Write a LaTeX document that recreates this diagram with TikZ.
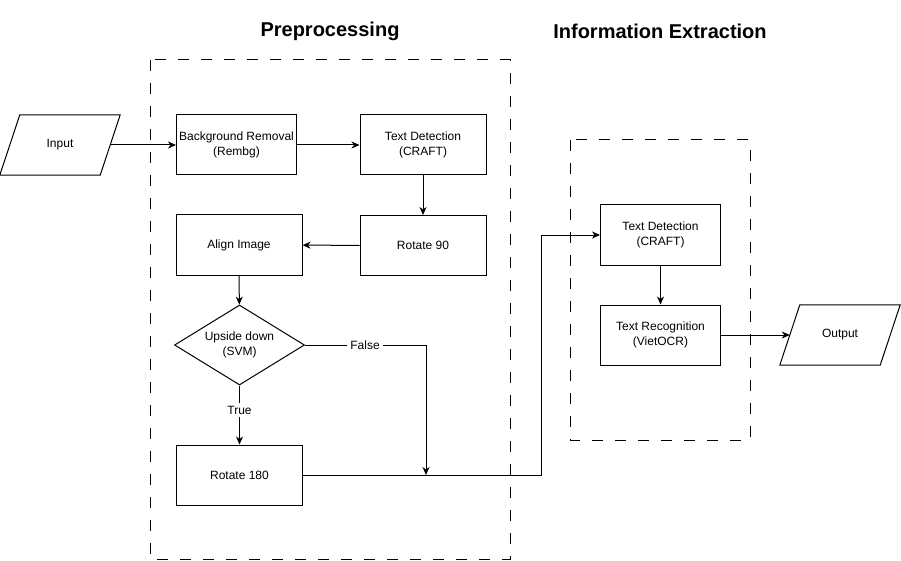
\documentclass[tikz,border=0pt]{standalone}
\usepackage{fontspec}
\setmainfont{Liberation Sans}
\usetikzlibrary{shapes.geometric,arrows.meta}
\begin{document}
\begin{tikzpicture}[x=1pt,y=-1pt,
  every node/.style={font=\fontsize{12}{14.4}\selectfont, align=center, inner sep=0pt},
  box/.style={draw, line width=1pt, minimum width=#1, minimum height=60pt},
  box/.default=126pt,
  io/.style={minimum width=100pt, minimum height=60pt},
  iobox/.style={draw, line width=1pt, line join=miter},
  dec/.style={draw, line width=1pt, diamond, aspect=1.625, minimum width=130pt, minimum height=80pt, inner sep=0pt},
  arr/.style={draw, line width=1pt, -{Stealth[length=8pt,width=7pt,inset=2.5pt]}},
  grp/.style={draw, line width=1pt, dash pattern=on 11pt off 12pt},
  lbl/.style={fill=white, inner sep=3pt},
  ttl/.style={font=\fontsize{20}{24}\selectfont\bfseries}
]
\useasboundingbox (0,0) rectangle (901,561);
% groups
\draw[grp] (150,60) rectangle (510,559);
\draw[grp] (570,140) rectangle (750,440);
\node[ttl] (t1) at (330,31) {Preprocessing};
\node[ttl] (t2) at (660,31) {Information Extraction};
% nodes
\node[io] (in) at (60,145) {Input};
\draw[iobox] ([xshift=10pt]in.north west) -- ([xshift=10pt]in.north east) -- ([xshift=-10pt]in.south east) -- ([xshift=-10pt]in.south west) -- cycle;
\node[box=120pt] (bg) at (236.5,145) {Background Removal\\(Rembg)};
\node[box] (td1) at (423,145) {Text Detection\\(CRAFT)};
\node[box] (r90) at (423,245.5) {Rotate 90};
\node[box] (al) at (239,245) {Align Image};
\node[dec] (dia) at (239.5,345) {Upside down\\(SVM)};
\node[box] (r180) at (239.5,475) {Rotate 180};
\node[box=120pt] (td2) at (660.5,235) {Text Detection\\(CRAFT)};
\node[box=120pt] (tr) at (660.5,335) {Text Recognition\\(VietOCR)};
\node[io] (out) at (840,335) {Output};
\draw[iobox] ([xshift=10pt]out.north west) -- ([xshift=10pt]out.north east) -- ([xshift=-10pt]out.south east) -- ([xshift=-10pt]out.south west) -- cycle;
\coordinate (m) at (426,475);
\coordinate (j) at (541,475);
% connectors
\draw[arr] (in) -- (bg);
\draw[arr] (bg) -- (td1);
\draw[arr] (td1) -- (r90);
\draw[arr] (r90) -- (al);
\draw[arr] (al) -- (dia);
\draw[arr] (dia) -- node[lbl, pos=0.42]{True} (r180);
\draw[arr] (dia.east) -| node[lbl, pos=0.248]{False} (m);
\draw[arr] (r180.east) -- (j) |- (td2.west);
\draw[arr] (td2) -- (tr);
\draw[arr] (tr) -- (out);
\end{tikzpicture}
\end{document}
